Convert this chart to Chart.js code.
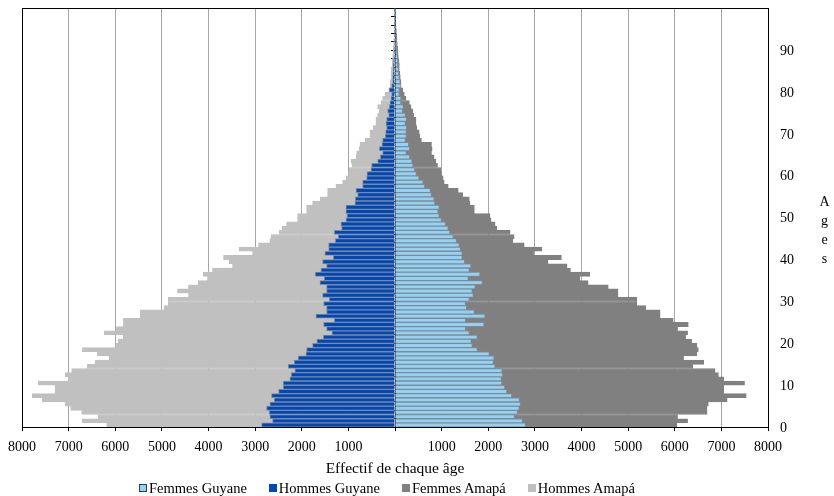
<!DOCTYPE html>
<html>
<head>
<meta charset="utf-8">
<script src="https://cdn.jsdelivr.net/npm/chart.js@4.4.0/dist/chart.umd.min.js"></script>
<style>
  html, body { margin: 0; padding: 0; background: #fff; }
  #wrap { position: relative; width: 834px; height: 496px; }
  #ages {
    position: absolute; left: 816px; top: 194px;
    font: 14px "Liberation Serif", serif; color: #000;
    writing-mode: vertical-lr; text-orientation: upright; letter-spacing: 4px;
  }
  #legend {
    position: absolute; left: 139px; top: 479px; height: 18px;
    display: flex; align-items: center; gap: 22px;
    font: 14.5px "Liberation Serif", serif; color: #000; white-space: nowrap;
  }
  #legend .item { display: flex; align-items: center; }
  #legend .box { width: 6px; height: 6px; border: 1px solid; margin-right: 2px; }
</style>
</head>
<body>
<div id="wrap">
  <canvas id="pyramid" width="834" height="496"></canvas>
  <div id="ages">Ages</div>
  <div id="legend"></div>
</div>
<script>
// age categories 0..99 and the labels shown on the right axis
const ages = Array.from({ length: 100 }, (_, i) => String(i))
const ageTicks = ["0", "10", "20", "30", "40", "50", "60", "70", "80", "90"]

// population per single year of age
const femmesGuyane = [
  2801, 2736, 2564, 2628, 2664, 2693, 2671, 2506, 2398, 2355,
  2291, 2284, 2312, 2298, 2147, 2111, 2126, 2025, 1767, 1659,
  1637, 1767, 1594, 1515, 1910, 1515, 1932, 1702, 1537, 1515,
  1594, 1680, 1659, 1723, 1874, 1573, 1824, 1594, 1630, 1494,
  1443, 1443, 1407, 1379, 1321, 1249, 1178, 1142, 1084, 998,
  948, 926, 948, 855, 840, 783, 761, 639, 603, 517,
  460, 424, 388, 366, 316, 244, 316, 294, 223, 244,
  244, 250, 222, 250, 222, 165, 179, 129, 129, 93,
  93, 129, 114, 93, 79, 79, 64, 64, 57, 43,
  36, 36, 29, 22, 18, 14, 10, 8, 5, 4
]
const hommesGuyane = [
  2862, 2626, 2683, 2698, 2755, 2683, 2590, 2648, 2497, 2397,
  2397, 2254, 2225, 2147, 2290, 2161, 2075, 1911, 1896, 1768,
  1675, 1538, 1352, 1467, 1531, 1302, 1696, 1467, 1467, 1531,
  1410, 1553, 1467, 1467, 1610, 1517, 1710, 1589, 1467, 1553,
  1324, 1503, 1424, 1424, 1281, 1217, 1302, 1145, 1159, 1052,
  1030, 1052, 1052, 859, 852, 801, 837, 694, 694, 608,
  601, 515, 501, 372, 315, 265, 336, 279, 265, 208,
  200, 179, 193, 179, 136, 157, 122, 107, 86, 72,
  122, 72, 50, 50, 43, 36, 36, 29, 21, 21,
  14, 12, 10, 8, 6, 5, 4, 3, 2, 1
]
const femmesAmapa = [
  6046, 6276, 6060, 6693, 6693, 6721, 7124, 7533, 7052, 7052,
  7497, 7052, 6937, 6865, 6384, 6621, 6190, 6477, 6506, 6477,
  6362, 6233, 6276, 6061, 6291, 5967, 5687, 5687, 5379, 5185,
  5185, 4783, 4783, 4574, 4143, 3964, 4179, 3763, 3691, 3282,
  3569, 2973, 3152, 2772, 2528, 2556, 2470, 2183, 2147, 2061,
  2039, 1702, 1702, 1609, 1594, 1451, 1357, 1142, 1056, 1034,
  998, 984, 912, 876, 840, 783, 797, 783, 567, 531,
  520, 465, 451, 451, 400, 379, 343, 308, 236, 200,
  165, 129, 129, 114, 107, 93, 93, 86, 72, 64,
  57, 50, 43, 36, 29, 22, 16, 12, 8, 5
]
const hommesAmapa = [
  6183, 6705, 6369, 6720, 6956, 7077, 7564, 7779, 7292, 7292,
  7650, 7013, 7077, 6934, 6598, 6433, 6133, 6383, 6705, 5990,
  5940, 5832, 6240, 5975, 5825, 5825, 5467, 5467, 4952, 4866,
  4866, 4430, 4666, 4430, 4222, 4022, 4115, 3914, 3485, 3557,
  3678, 3056, 3342, 2927, 2684, 2662, 2483, 2426, 2326, 2090,
  2090, 1896, 1896, 1768, 1603, 1445, 1445, 1267, 1124, 1052,
  995, 980, 923, 945, 837, 823, 766, 751, 637, 537,
  540, 465, 408, 408, 372, 336, 372, 300, 265, 207,
  136, 107, 107, 86, 86, 79, 64, 57, 50, 43,
  36, 30, 25, 20, 15, 12, 8, 6, 4, 3
]

Chart.defaults.font.family = '"Liberation Serif", "Times New Roman", serif'
Chart.defaults.font.size = 14
Chart.defaults.color = "#000"

const barStyle = {
  grouped: false,
  barPercentage: 1,
  categoryPercentage: 1,
  borderWidth: 1,
}

const ctx = document.getElementById("pyramid")
const chart = new Chart(ctx, {
  type: "bar",
  data: {
    labels: ages,
    datasets: [
      { ...barStyle, label: "Femmes Guyane", data: femmesGuyane, backgroundColor: "#94D2F4", borderColor: "#7F8A96" },
      { ...barStyle, label: "Hommes Guyane", data: hommesGuyane.map((v) => -v), backgroundColor: "#0047BA", borderColor: "#7F8A96" },
      { ...barStyle, label: "Femmes Amapá", data: femmesAmapa, backgroundColor: "#808080", borderColor: "#808080" },
      { ...barStyle, label: "Hommes Amapá", data: hommesAmapa.map((v) => -v), backgroundColor: "#C0C0C0", borderColor: "#C0C0C0" },
    ],
  },
  options: {
    indexAxis: "y",
    responsive: false,
    animation: false,
    devicePixelRatio: 1,
    layout: { padding: { top: 7, left: 18, right: 40, bottom: 0 } },
    plugins: {
      tooltip: { enabled: false },
      legend: { display: false },
    },
    scales: {
      x: {
        type: "linear",
        min: -8000,
        max: 8000,
        ticks: {
          stepSize: 1000,
          padding: 8,
          callback: (v) => (v === 0 ? "" : Math.abs(v)),
        },
        grid: {
          color: (c) => (c.tick && c.tick.value === 0 ? "#000" : "#A6A6A6"),
          tickColor: "#000",
          tickLength: 4,
        },
        border: { color: "#000" },
        title: {
          display: true,
          text: "Effectif de chaque âge",
          font: { size: 15.5 },
          padding: { top: -4, bottom: 17.5 },
        },
      },
      x2: {
        type: "linear",
        position: "top",
        min: -8000,
        max: 8000,
        ticks: { display: false },
        grid: { drawOnChartArea: false, drawTicks: false },
        border: { color: "#000" },
      },
      y: {
        type: "category",
        reverse: true,
        ticks: { display: false },
        grid: { drawOnChartArea: false, drawTicks: false },
        border: { color: "#000" },
      },
      yc: {
        type: "category",
        reverse: true,
        position: { x: 0 },
        z: 1,
        ticks: { display: false },
        grid: {
          drawOnChartArea: false,
          tickLength: 4,
          tickColor: (c) => (c.index % 2 === 0 ? "#000" : "rgba(0,0,0,0)"),
        },
        border: { display: true, color: "#000" },
      },
      y2: {
        type: "category",
        position: "right",
        reverse: true,
        ticks: {
          autoSkip: false,
          padding: 0,
          labelOffset: 3,
          callback: function (v) {
            const lab = this.getLabelForValue(v)
            return ageTicks.includes(lab) ? lab : null
          },
        },
        grid: { drawOnChartArea: false, tickLength: 12, tickColor: "rgba(0,0,0,0)" },
        border: { color: "#000" },
      },
    },
  },
})

// legend built from the chart's datasets
const legendEl = document.getElementById("legend")
chart.data.datasets.forEach((ds) => {
  const item = document.createElement("span")
  item.className = "item"
  const box = document.createElement("span")
  box.className = "box"
  box.style.background = ds.backgroundColor
  box.style.borderColor = ds.label === "Femmes Guyane" ? "#3a3a3a" : ds.backgroundColor
  item.appendChild(box)
  item.appendChild(document.createTextNode(ds.label))
  legendEl.appendChild(item)
})
</script>
</body>
</html>
